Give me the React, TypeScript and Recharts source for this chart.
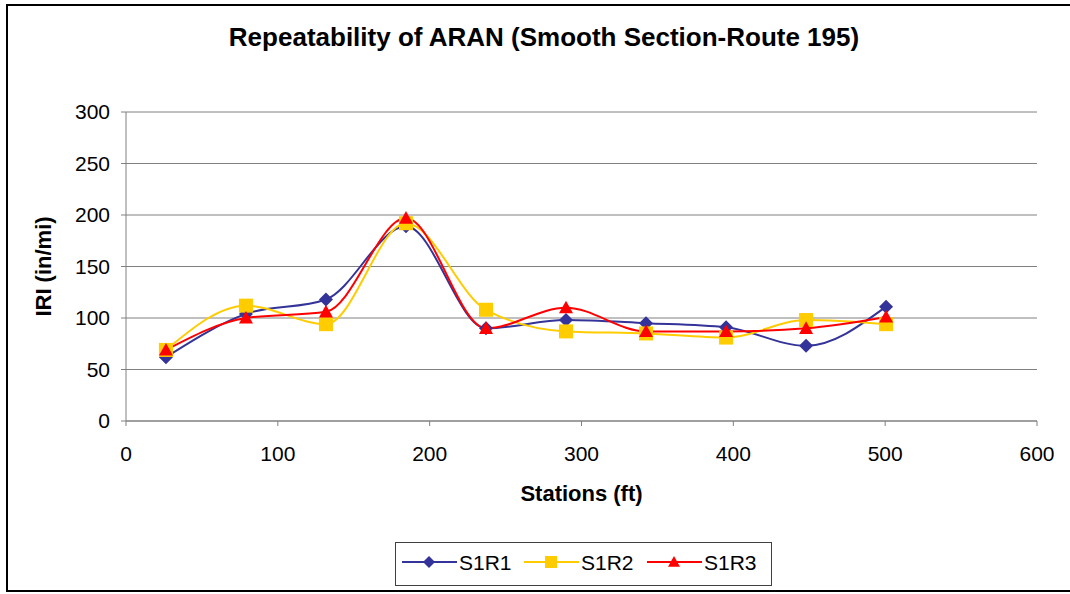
import { LineChart, Line, XAxis, YAxis, CartesianGrid, Legend } from 'recharts'

const stations = [26.3, 79.0, 131.7, 184.4, 237.1, 289.8, 342.5, 395.2, 447.9, 500.6]
const s1r1 = [62, 104, 118, 189, 90, 98, 95, 91, 73, 111]
const s1r2 = [69, 112, 94, 192, 108, 87, 85, 81, 98, 94]
const s1r3 = [69, 100, 106, 197, 90, 110, 87, 87, 90, 101]
const xTicks = [0, 100, 200, 300, 400, 500, 600]
const yTicks = [0, 50, 100, 150, 200, 250, 300]

const SERIES = [
  { key: 'S1R1', color: '#333399', shape: 'diamond' },
  { key: 'S1R2', color: '#FFCC00', shape: 'square' },
  { key: 'S1R3', color: '#FF0000', shape: 'triangle' },
]

const rows = stations.map((station, i) => ({
  station,
  S1R1: s1r1[i],
  S1R2: s1r2[i],
  S1R3: s1r3[i],
}))

const FONT = '"Liberation Sans", Arial, sans-serif'

// marker glyph, reused by the dots and the legend
function marker(shape: string, cx: number, cy: number, r: number, color: string, key?: any) {
  if (shape === 'diamond') {
    return <path key={key} d={`M${cx},${cy - r} L${cx + r},${cy} L${cx},${cy + r} L${cx - r},${cy} Z`} fill={color} />
  }
  if (shape === 'square') {
    return <rect key={key} x={cx - r} y={cy - r} width={r * 2} height={r * 2} fill={color} />
  }
  return <path key={key} d={`M${cx},${cy - r} L${cx + r},${cy + r * 0.8} L${cx - r},${cy + r * 0.8} Z`} fill={color} />
}

const makeDot = (shape: string, color: string, r: number) => (p: any) => {
  if (p.cx == null || p.cy == null) return <g key={p.key} />
  return marker(shape, p.cx, p.cy, r, color, p.key)
}

function LegendBox() {
  const starts = [0, 122, 245]
  return (
    <svg width={378} height={45} style={{ display: 'block' }}>
      <rect x={0.5} y={0.5} width={376} height={43} fill="#fff" stroke="#404040" strokeWidth={1} />
      {SERIES.map((s, i) => {
        const x0 = starts[i] + 7
        return (
          <g key={s.key}>
            <line x1={x0} y1={20} x2={x0 + 55} y2={20} stroke={s.color} strokeWidth={2} />
            {marker(s.shape, x0 + 27, 20, 6, s.color)}
            <text x={x0 + 57} y={27.5} fontSize={21} fontFamily={FONT} fill="#000">{s.key}</text>
          </g>
        )
      })}
    </svg>
  )
}

const YLabel = (props: any) => {
  const vb = props.viewBox
  const x = vb.x + 5
  const y = vb.y + vb.height / 2
  return (
    <text x={x} y={y} transform={`rotate(-90, ${x}, ${y})`} textAnchor="middle"
      fontSize={22} fontWeight="bold" fontFamily={FONT} fill="#000">IRI (in/mi)</text>
  )
}

const XLabel = (props: any) => {
  const vb = props.viewBox
  return (
    <text x={vb.x + vb.width / 2} y={vb.y + 80} textAnchor="middle"
      fontSize={22} fontWeight="bold" fontFamily={FONT} fill="#000">Stations (ft)</text>
  )
}

export default function App() {
  return (
    <div style={{ position: 'absolute', left: 0, top: 0, width: 1070, height: 594, background: '#fff', overflow: 'hidden', fontFamily: FONT }}>
      <div style={{ position: 'absolute', left: 6, top: 4, width: 1070, height: 588, border: '2px solid #000', boxSizing: 'border-box' }} />
      <div style={{ position: 'absolute', left: 0, top: 24, width: 1088, textAlign: 'center', fontSize: 26, lineHeight: '26px', fontWeight: 'bold', color: '#000' }}>
        Repeatability of ARAN (Smooth Section-Route 195)
      </div>
      <LineChart width={1070} height={594} data={rows}
        margin={{ top: 112, right: 33, left: 46, bottom: 93 }}
        style={{ position: 'absolute', left: 0, top: 0 }}>
        <CartesianGrid vertical={false} stroke="#808080" strokeWidth={1} />
        <XAxis dataKey="station" type="number" domain={[0, 600]} ticks={xTicks}
          height={80} tickSize={5} tickMargin={20} stroke="#808080"
          tick={{ fill: '#000', fontSize: 21, fontFamily: FONT }}
          label={XLabel} />
        <YAxis type="number" domain={[0, 300]} ticks={yTicks}
          width={80} tickSize={5} tickMargin={11} stroke="#808080"
          tick={{ fill: '#000', fontSize: 21, fontFamily: FONT }}
          label={YLabel} />
        <Legend layout="horizontal" verticalAlign="middle" align="center"
          wrapperStyle={{ position: 'absolute', left: 395, top: 542, width: 378, height: 45 }}
          content={() => <LegendBox />} />
        {SERIES.map((s) => (
          <Line key={s.key} dataKey={s.key} type="monotone" stroke={s.color} strokeWidth={2}
            dot={makeDot(s.shape, s.color, 7)} activeDot={false} isAnimationActive={false} />
        ))}
      </LineChart>
    </div>
  )
}
